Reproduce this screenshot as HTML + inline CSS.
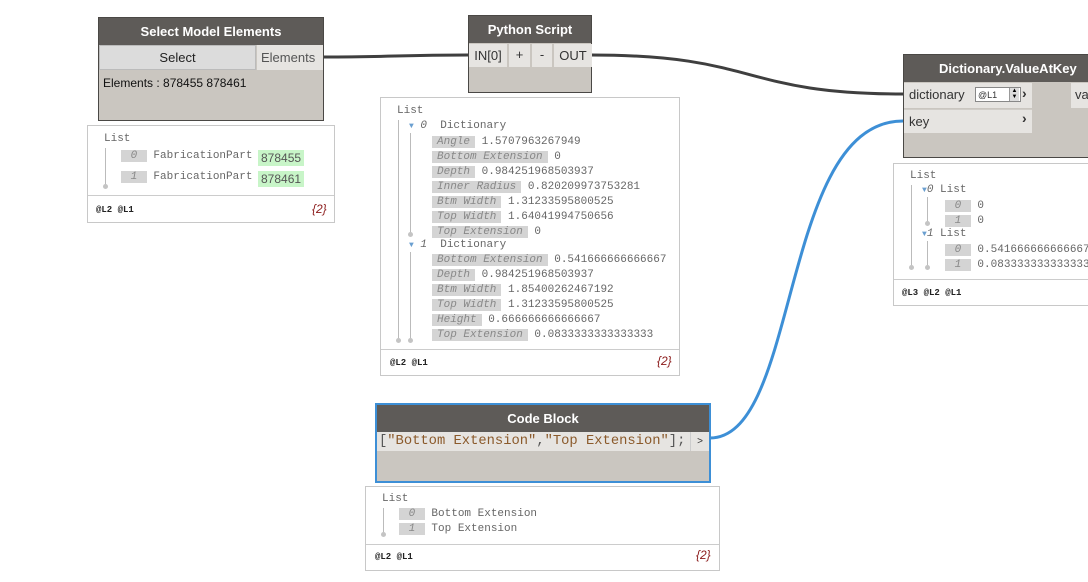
<!DOCTYPE html>
<html><head><meta charset="utf-8"><style>
body{margin:0;width:1088px;height:582px;background:#fff;position:relative;overflow:hidden;font-family:"Liberation Sans",sans-serif;}
.a{position:absolute;box-sizing:border-box;}
.node{background:#cac6c0;border:1px solid #4a4845;}
.hd{background:#5e5b58;color:#fff;font-weight:bold;font-size:13px;text-align:center;}
.port{background:#e6e4e1;color:#333;font-size:13px;}
.watch{border:1px solid #c8c8c8;background:#fff;}
.m{font-family:"Liberation Mono","DejaVu Sans Mono",monospace;font-size:11px;color:#666;white-space:pre;}
.ix{background:#d4d4d4;color:#888;font-style:italic;padding:0 3px;}
.k{background:#d4d4d4;color:#888;font-style:italic;padding:0 5px;}
.vl{position:absolute;width:1px;background:#bbb;}
.dot{position:absolute;width:5px;height:5px;border-radius:50%;background:#c4c4c4;}
.ft{font-size:9px;font-weight:bold;color:#222;font-family:"Liberation Mono",monospace;}
.cnt{font-size:12px;color:#8b1a1a;font-style:italic;}
.tri{color:#6a9fd0;font-size:8px;}
</style></head><body>
<svg class="a" style="left:0;top:0" width="1088" height="582">
<path d="M323 57 C390 57,400 55,468 55" stroke="#3f3f3f" stroke-width="3" fill="none"/>
<path d="M591 55 C760 55,740 94,903 94" stroke="#3f3f3f" stroke-width="3" fill="none"/>
<path d="M710 438 C800 438,780 121,903 121" stroke="#3d8fd6" stroke-width="3" fill="none"/>
</svg>

<!-- Select Model Elements -->
<div class="a node" style="left:98px;top:17px;width:226px;height:104px">
<div class="hd" style="height:27px;line-height:27px">Select Model Elements</div>
<div class="a" style="left:0;top:27px;width:157px;height:25px;background:#dcdcdc;border:1px solid #bbb;font-size:13px;text-align:center;line-height:24px;color:#222">Select</div>
<div class="a port" style="left:158px;top:27px;width:66px;height:25px;line-height:25px;padding-left:4px;color:#555">Elements</div>
<div class="a" style="left:4px;top:58px;font-size:12px;color:#111">Elements : 878455 878461</div>
</div>
<div class="a watch" style="left:87px;top:125px;width:248px;height:98px">
<div class="a m" style="left:16px;top:7px">List</div>
<div class="vl" style="left:17px;top:22px;height:38px"></div><div class="dot" style="left:15px;top:58px"></div>
<div class="a m" style="left:33px;top:24px"><span class="ix"> 0 </span> FabricationPart</div>
<div class="a m" style="left:170px;top:24px;background:#c8f5c8;padding:1px 3px;font-style:normal;color:#555;font-size:12px;font-family:'Liberation Sans',sans-serif">878455</div>
<div class="a m" style="left:33px;top:45px"><span class="ix"> 1 </span> FabricationPart</div>
<div class="a m" style="left:170px;top:45px;background:#c8f5c8;padding:1px 3px;font-style:normal;color:#555;font-size:12px;font-family:'Liberation Sans',sans-serif">878461</div>
<div class="a" style="left:0;top:69px;width:246px;border-top:1px solid #ccc"></div>
<div class="a ft" style="left:8px;top:79px">@L2 @L1</div>
<div class="a cnt" style="left:224px;top:76px">{2}</div>
</div>

<!-- Python Script -->
<div class="a node" style="left:468px;top:15px;width:124px;height:78px">
<div class="hd" style="height:27px;line-height:27px">Python Script</div>
<div class="a port" style="left:0;top:28px;width:38px;height:23px;line-height:23px;text-align:center">IN[0]</div>
<div class="a port" style="left:40px;top:28px;width:21px;height:23px;line-height:22px;text-align:center">+</div>
<div class="a port" style="left:63px;top:28px;width:20px;height:23px;line-height:22px;text-align:center">-</div>
<div class="a port" style="left:85px;top:28px;width:38px;height:23px;line-height:23px;text-align:center">OUT</div>
</div>
<div class="a watch" style="left:380px;top:97px;width:300px;height:279px">
<div class="a m" style="left:16px;top:7px">List</div>
<div class="vl" style="left:17px;top:22px;height:220px"></div><div class="dot" style="left:15px;top:240px"></div>
<div class="a m" style="left:28px;top:22px"><span class="tri">▼</span> <i>0</i>  Dictionary</div>
<div class="vl" style="left:29px;top:35px;height:101px"></div><div class="dot" style="left:27px;top:134px"></div>
<div class="a m" style="left:51px;top:37px;line-height:15px"><span class="k">Angle</span> 1.5707963267949
<span class="k">Bottom Extension</span> 0
<span class="k">Depth</span> 0.984251968503937
<span class="k">Inner Radius</span> 0.820209973753281
<span class="k">Btm Width</span> 1.31233595800525
<span class="k">Top Width</span> 1.64041994750656
<span class="k">Top Extension</span> 0</div>
<div class="a m" style="left:28px;top:141px"><span class="tri">▼</span> <i>1</i>  Dictionary</div>
<div class="vl" style="left:29px;top:154px;height:88px"></div><div class="dot" style="left:27px;top:240px"></div>
<div class="a m" style="left:51px;top:155px;line-height:15px"><span class="k">Bottom Extension</span> 0.541666666666667
<span class="k">Depth</span> 0.984251968503937
<span class="k">Btm Width</span> 1.85400262467192
<span class="k">Top Width</span> 1.31233595800525
<span class="k">Height</span> 0.666666666666667
<span class="k">Top Extension</span> 0.0833333333333333</div>
<div class="a" style="left:0;top:251px;width:298px;border-top:1px solid #ccc"></div>
<div class="a ft" style="left:9px;top:260px">@L2 @L1</div>
<div class="a cnt" style="left:276px;top:256px">{2}</div>
</div>

<!-- Dictionary.ValueAtKey -->
<div class="a node" style="left:903px;top:54px;width:200px;height:104px">
<div class="hd" style="height:27px;line-height:27px;text-align:left;padding-left:35px">Dictionary.ValueAtKey</div>
<div class="a port" style="left:0;top:28px;width:128px;height:25px;line-height:24px;padding-left:5px">dictionary</div>
<div class="a" style="left:71px;top:32px;width:46px;height:15px;background:#fff;border:1px solid #888;font-size:9px;line-height:14px;padding-left:2px;color:#333">@L1</div>
<div class="a" style="left:105px;top:33px;width:10px;height:13px;background:#ddd;border-left:1px solid #999;font-size:6px;line-height:6px;text-align:center">▲<br>▼</div>
<div class="a" style="left:118px;top:30px;font-size:14px;font-weight:bold;color:#333">›</div>
<div class="a port" style="left:0;top:54px;width:128px;height:24px;line-height:24px;padding-left:5px;border-top:1px solid #d0cdc8">key</div>
<div class="a" style="left:118px;top:55px;font-size:14px;font-weight:bold;color:#333">›</div>
<div class="a port" style="left:167px;top:28px;width:40px;height:25px;line-height:24px;padding-left:4px">va</div>
</div>
<div class="a watch" style="left:893px;top:163px;width:200px;height:143px">
<div class="a m" style="left:16px;top:6px">List</div>
<div class="vl" style="left:17px;top:21px;height:82px"></div><div class="dot" style="left:15px;top:101px"></div>
<div class="a m" style="left:28px;top:20px"><span class="tri">▼</span><i>0</i> List</div>
<div class="vl" style="left:33px;top:33px;height:26px"></div><div class="dot" style="left:31px;top:57px"></div>
<div class="a m" style="left:51px;top:35px;line-height:15px"><span class="ix"> 0 </span> 0
<span class="ix"> 1 </span> 0</div>
<div class="a m" style="left:28px;top:64px"><span class="tri">▼</span><i>1</i> List</div>
<div class="vl" style="left:33px;top:77px;height:26px"></div><div class="dot" style="left:31px;top:101px"></div>
<div class="a m" style="left:51px;top:79px;line-height:15px"><span class="ix"> 0 </span> 0.541666666666667
<span class="ix"> 1 </span> 0.0833333333333333</div>
<div class="a" style="left:0;top:115px;width:200px;border-top:1px solid #ccc"></div>
<div class="a ft" style="left:8px;top:124px">@L3 @L2 @L1</div>
</div>

<!-- Code Block -->
<div class="a node" style="left:375px;top:403px;width:336px;height:80px;border:2px solid #3d8fd6">
<div class="hd" style="height:27px;line-height:28px">Code Block</div>
<div class="a" style="left:0;top:27px;width:332px;height:19px;background:#e6e4e1"></div>
<div class="a" style="left:2px;top:27px;font-family:'Liberation Mono',monospace;font-size:13.8px;line-height:19px;color:#555;white-space:pre">[<span style="color:#8b5a2b">"Bottom Extension"</span>,<span style="color:#8b5a2b">"Top Extension"</span>];</div>
<div class="a" style="left:313px;top:27px;width:19px;height:19px;border-left:1px solid #ccc;background:#e6e4e1;font-size:10px;line-height:19px;text-align:center;color:#333">&gt;</div>
</div>
<div class="a watch" style="left:365px;top:486px;width:355px;height:85px">
<div class="a m" style="left:16px;top:6px">List</div>
<div class="vl" style="left:17px;top:21px;height:26px"></div><div class="dot" style="left:15px;top:45px"></div>
<div class="a m" style="left:33px;top:20px;line-height:15px"><span class="ix"> 0 </span> Bottom Extension
<span class="ix"> 1 </span> Top Extension</div>
<div class="a" style="left:0;top:57px;width:353px;border-top:1px solid #ccc"></div>
<div class="a ft" style="left:9px;top:65px">@L2 @L1</div>
<div class="a cnt" style="left:330px;top:61px">{2}</div>
</div>
</body></html>
